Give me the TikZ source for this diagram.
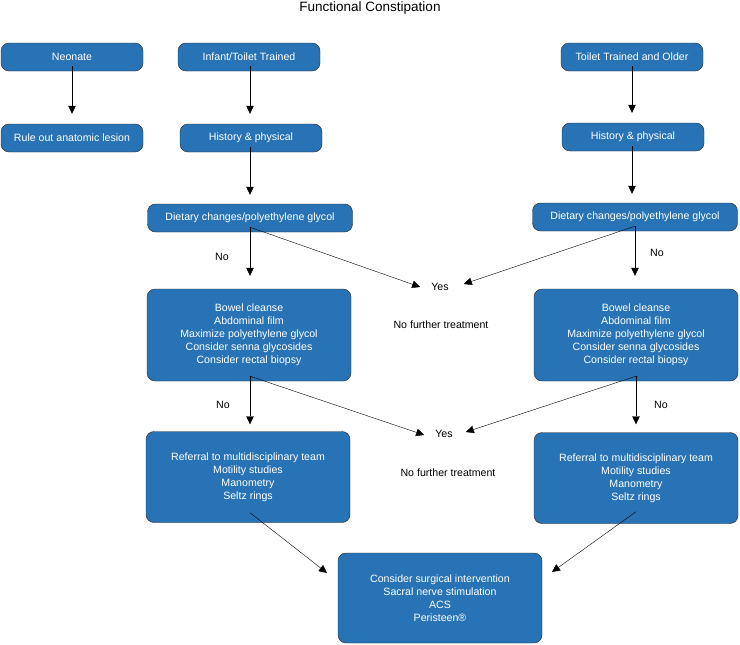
\documentclass[tikz,border=0pt]{standalone}
\usepackage{fontspec}
\setmainfont{Liberation Sans}
\usetikzlibrary{calc}
\usetikzlibrary{positioning}
\usetikzlibrary{arrows.meta}
\definecolor{boxblue}{RGB}{40,115,182}
\tikzset{
	>={Triangle[length=8pt,width=7.5pt]},
	stepbox/.style={
		rectangle,
		rounded corners=8pt,
		fill=boxblue,
		draw=black!85, thin,
		text=white,
		align=center,
		inner sep=2pt,
		font=\fontsize{10.6}{13}\selectfont},
	smallbox/.style={stepbox, minimum width=142pt, minimum height=28pt},
	bigbox/.style={stepbox, minimum width=204pt, minimum height=92pt},
	answer/.style={font=\fontsize{10.6}{13}\selectfont, inner sep=0pt},
	yesnode/.style={answer, inner xsep=11pt, inner ysep=2pt},
	line/.style={draw, thin, ->},
}

\begin{document}
\begin{tikzpicture}[x=1pt,y=-1pt]
	\useasboundingbox (0,0) rectangle (740,645);
	
	\node[font=\fontsize{13.5}{16}\selectfont] (title) at (370,8) {Functional Constipation};
	
	% top row
	\node[smallbox] (neo)   at (72,57)  {Neonate};
	\node[smallbox] (inf)   at (249,57) {Infant/Toilet Trained};
	\node[smallbox] (old)   at (632,57) {Toilet Trained and Older};
	
	\node[smallbox] (rule)  at (72,138)  {Rule out anatomic lesion};
	\node[smallbox] (lhist) at (251,138) {History \& physical};
	\node[smallbox] (rhist) at (633,137) {History \& physical};
	
	\node[stepbox, minimum width=205pt, minimum height=28pt] (ldiet) at (250,218) {Dietary changes/polyethylene glycol};
	\node[stepbox, minimum width=205pt, minimum height=28pt] (rdiet) at (635,217) {Dietary changes/polyethylene glycol};
	
	\node[bigbox] (lbowel) at (249,335) {Bowel cleanse\\Abdominal film\\Maximize polyethylene glycol\\Consider senna glycosides\\Consider rectal biopsy};
	\node[bigbox] (rbowel) at (636,335) {Bowel cleanse\\Abdominal film\\Maximize polyethylene glycol\\Consider senna glycosides\\Consider rectal biopsy};
	
	\node[bigbox, minimum height=91pt] (lref) at (248,477) {Referral to multidisciplinary team\\Motility studies\\Manometry\\Seltz rings};
	\node[bigbox, minimum height=91pt] (rref) at (636,478) {Referral to multidisciplinary team\\Motility studies\\Manometry\\Seltz rings};
	
	\node[bigbox, minimum height=90pt] (surg) at (440,598) {Consider surgical intervention\\Sacral nerve stimulation\\ACS\\Peristeen\textregistered};
	
	% answers
	\node[yesnode] (yes1) at (440,287) {Yes};
	\node[answer] (stop1) at (441,325) {No further treatment};
	\node[yesnode] (yes2) at (444,434) {Yes};
	\node[answer] (stop2) at (448,473) {No further treatment};
	
	\node[answer] (lno1) at (222,257) {No};
	\node[answer] (rno1) at (657,253) {No};
	\node[answer] (lno2) at (223,405) {No};
	\node[answer] (rno2) at (661,405) {No};
	
	% branch points
	\coordinate (ldiv1) at ($(ldiet.south)+(0,-5)$);
	\coordinate (rdiv1) at ($(rdiet.south)+(0,-5)$);
	\coordinate (ldiv2) at ($(lbowel.south)+(1,-5)$);
	\coordinate (rdiv2) at ($(rbowel.south)+(0,-5)$);
	\coordinate (lfeed) at ($(lref.south)+(2,-10)$);
	\coordinate (rfeed) at ($(rref.south)+(0,-12)$);
	\coordinate (lin)   at (327,573);
	\coordinate (rin)   at (552,572);
	
	\draw[line] ($(neo.south)+(0,-5)$) -- ($(neo.south |- rule.north)+(0,-10)$);
	\draw[line] ($(inf.south)+(1,-5)$) -- ($(inf.south |- lhist.north)+(1,-10)$);
	\draw[line] ($(old.south)+(0,-5)$) -- ($(old.south |- rhist.north)+(0,-10)$);
	\draw[line] ($(lhist.south)+(-1,-5)$) -- ($(lhist.south |- ldiet.north)+(-1,-9)$);
	\draw[line] ($(rhist.south)+(-1,-5)$) -- ($(rhist.south |- rdiet.north)+(-1,-9)$);
	
	\draw[line] (ldiv1) -- ($(ldiv1 |- lbowel.north)+(0,-13)$);
	\draw[line] (ldiv1) -- (yes1.west);
	\draw[line] (rdiv1) -- ($(rdiv1 |- rbowel.north)+(0,-13)$);
	\draw[line] (rdiv1) -- ($(yes1.east)+(4,-3)$);
	
	\draw[line] (ldiv2) -- ($(ldiv2 |- lref.north)+(0,-7)$);
	\draw[line] (ldiv2) -- ($(yes2.west)+(0,1)$);
	\draw[line] (rdiv2) -- ($(rdiv2 |- rref.north)+(0,-8)$);
	\draw[line] (rdiv2) -- ($(yes2.east)+(2,-2)$);
	
	\draw[line] (lfeed) -- (lin);
	\draw[line] (rfeed) -- (rin);
\end{tikzpicture}
\end{document}
